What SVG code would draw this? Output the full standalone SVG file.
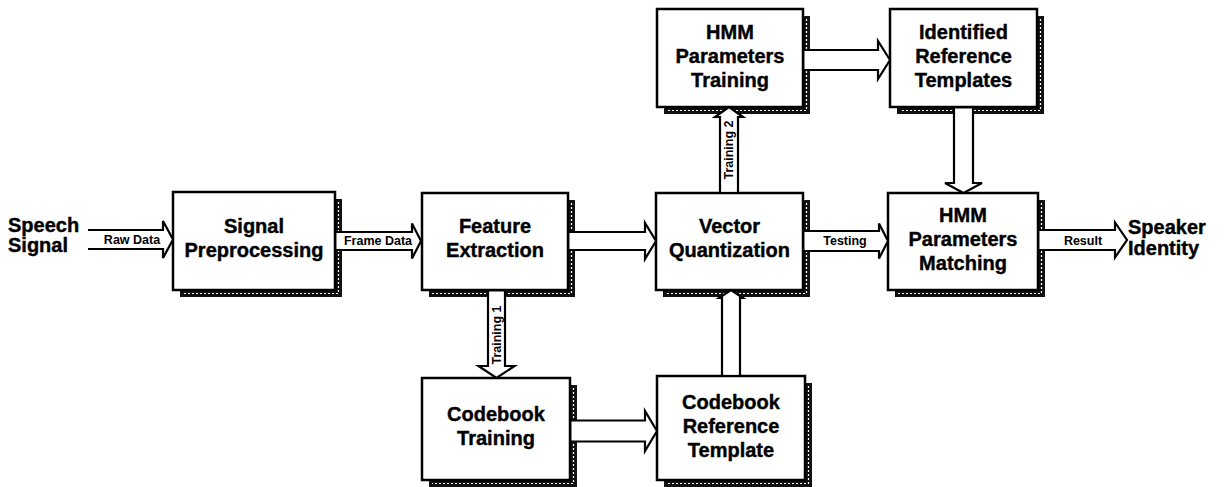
<svg xmlns="http://www.w3.org/2000/svg" width="1225" height="487" viewBox="0 0 1225 487">
<style>
.bg{fill:#ffffff}
.shadow{fill:#111111}
.tex{fill:none;stroke:#ffffff;stroke-width:1.2;stroke-dasharray:2 2}
.box{fill:#ffffff;stroke:#000000;stroke-width:2.5}
.t{font-family:"Liberation Sans",Arial,sans-serif;font-weight:bold;font-size:20px;fill:#000;stroke:#000;stroke-width:0.4;text-anchor:middle}
.ext{text-anchor:start}
.af{fill:#ffffff;stroke:none}
.as{fill:none;stroke:#000000;stroke-width:2.2;stroke-linejoin:miter}
.lbl{font-family:"Liberation Sans",Arial,sans-serif;font-weight:bold;font-size:12.5px;fill:#000;text-anchor:middle}
</style>
<rect class="bg" x="0" y="0" width="1225" height="487"/>

<g id="node-signal-preprocessing">
<rect class="shadow" x="180" y="199" width="162" height="98"/>
<path class="tex" d="M338.5,202 V293.5 H183"/>
<rect class="box" x="173" y="192" width="162" height="98"/>
<text class="t" x="254" y="233">Signal</text>
<text class="t" x="254" y="257">Preprocessing</text>
</g>

<g id="node-feature-extraction">
<rect class="shadow" x="429" y="200" width="146" height="97"/>
<path class="tex" d="M571.5,203 V293.5 H432"/>
<rect class="box" x="422" y="193" width="146" height="97"/>
<text class="t" x="495" y="233">Feature</text>
<text class="t" x="495" y="257">Extraction</text>
</g>

<g id="node-vector-quantization">
<rect class="shadow" x="663" y="200" width="147" height="97"/>
<path class="tex" d="M806.5,203 V293.5 H666"/>
<rect class="box" x="656" y="193" width="147" height="97"/>
<text class="t" x="729.5" y="233">Vector</text>
<text class="t" x="729.5" y="257">Quantization</text>
</g>

<g id="node-hmm-matching">
<rect class="shadow" x="895" y="200" width="150" height="97"/>
<path class="tex" d="M1041.5,203 V293.5 H898"/>
<rect class="box" x="888" y="193" width="150" height="97"/>
<text class="t" x="963" y="222">HMM</text>
<text class="t" x="963" y="246">Parameters</text>
<text class="t" x="963" y="270">Matching</text>
</g>

<g id="node-hmm-training">
<rect class="shadow" x="664" y="16" width="146" height="98"/>
<path class="tex" d="M806.5,19 V110.5 H667"/>
<rect class="box" x="657" y="9" width="146" height="98"/>
<text class="t" x="730" y="39">HMM</text>
<text class="t" x="730" y="63">Parameters</text>
<text class="t" x="730" y="87">Training</text>
</g>

<g id="node-identified-reference-templates">
<rect class="shadow" x="897" y="16" width="147" height="98"/>
<path class="tex" d="M1040.5,19 V110.5 H900"/>
<rect class="box" x="890" y="9" width="147" height="98"/>
<text class="t" x="963.5" y="39">Identified</text>
<text class="t" x="963.5" y="63">Reference</text>
<text class="t" x="963.5" y="87">Templates</text>
</g>

<g id="node-codebook-training">
<rect class="shadow" x="429" y="385" width="148" height="102"/>
<path class="tex" d="M573.5,388 V483.5 H432"/>
<rect class="box" x="422" y="378" width="148" height="102"/>
<text class="t" x="496" y="421">Codebook</text>
<text class="t" x="496" y="445">Training</text>
</g>

<g id="node-codebook-reference-template">
<rect class="shadow" x="664" y="383" width="148" height="104"/>
<path class="tex" d="M808.5,386 V483.5 H667"/>
<rect class="box" x="657" y="376" width="148" height="104"/>
<text class="t" x="731" y="409">Codebook</text>
<text class="t" x="731" y="433">Reference</text>
<text class="t" x="731" y="457">Template</text>
</g>

<g id="node-speech-signal">
<text class="t ext" x="8" y="232">Speech</text>
<text class="t ext" x="8" y="252">Signal</text>
</g>

<g id="node-speaker-identity">
<text class="t ext" x="1128" y="234">Speaker</text>
<text class="t ext" x="1128" y="255">Identity</text>
</g>

<g id="connectors">
<polygon class="af" points="88,230 163,230 163,221 173,239.5 163,258 163,249 88,249"/>
<path class="as" d="M88,230 H163 V221 L173,239.5 L163,258 V249 H88"/>

<polygon class="af" points="336.5,232 412,232 412,223.5 421,241 412,258.5 412,250 336.5,250"/>
<path class="as" d="M335,232 H412 V223.5 L421,241 L412,258.5 V250 H335"/>

<polygon class="af" points="569.5,232 645,232 645,223 656,241 645,259 645,250 569.5,250"/>
<path class="as" d="M568,232 H645 V223 L656,241 L645,259 V250 H568"/>

<polygon class="af" points="804.5,231 879,231 879,223.5 888,241 879,258.5 879,251 804.5,251"/>
<path class="as" d="M803,231 H879 V223.5 L888,241 L879,258.5 V251 H803"/>

<polygon class="af" points="1039.5,230 1115,230 1115,222.5 1127,240 1115,257.5 1115,250 1039.5,250"/>
<path class="as" d="M1038,230 H1115 V222.5 L1127,240 L1115,257.5 V250 H1038"/>

<polygon class="af" points="804.5,50 878,50 878,41 890,60 878,79 878,70 804.5,70"/>
<path class="as" d="M803,50 H878 V41 L890,60 L878,79 V70 H803"/>

<polygon class="af" points="571.5,420.5 645,420.5 645,411 657,431 645,451 645,441.5 571.5,441.5"/>
<path class="as" d="M570,420.5 H645 V411 L657,431 L645,451 V441.5 H570"/>

<polygon class="af" points="488,291.5 488,366 478.5,366 496.5,378 514.5,366 505,366 505,291.5"/>
<path class="as" d="M488,290 V366 H478.5 L496.5,378 L514.5,366 H505 V290"/>

<polygon class="af" points="954,108.5 954,183 945,183 963.5,193 982,183 973,183 973,108.5"/>
<path class="as" d="M954,107 V183 H945 L963.5,193 L982,183 H973 V107"/>

<polygon class="af" points="720,191.5 720,117 715,117 729,107 743,117 738,117 738,191.5"/>
<path class="as" d="M720,193 V117 H715 L729,107 L743,117 H738 V193"/>

<polygon class="af" points="722,374.5 722,298 719,298 731,290 743,298 740,298 740,374.5"/>
<path class="as" d="M722,376 V298 H719 L731,290 L743,298 H740 V376"/>

<text class="lbl" x="132" y="244">Raw Data</text>
<text class="lbl" x="378" y="245">Frame Data</text>
<text class="lbl" x="845" y="245">Testing</text>
<text class="lbl" x="1083" y="245">Result</text>
<text class="lbl" x="500.5" y="335" transform="rotate(-90 500.5 335)">Training 1</text>
<text class="lbl" x="733" y="150" transform="rotate(-90 733 150)">Training 2</text>
</g>
</svg>
